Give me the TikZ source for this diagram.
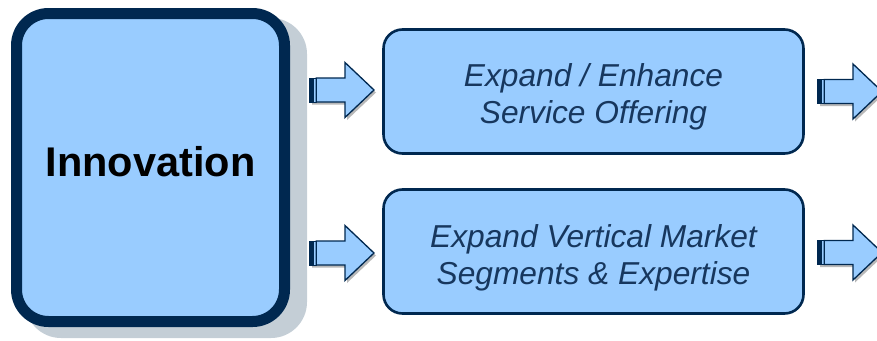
\documentclass[tikz,border=0pt]{standalone}
\usepackage{fontspec}
\setmainfont{Liberation Sans}
\usetikzlibrary{calc}
\definecolor{navy}{HTML}{002850}
\definecolor{lightblue}{HTML}{99CCFF}
\definecolor{shadowgray}{HTML}{C4CED6}
\definecolor{textnavy}{HTML}{17375E}
\tikzset{
  bigbox/.style={draw=navy, fill=lightblue, line width=11pt, rounded corners=32pt,
    minimum width=268pt, minimum height=308pt, inner sep=0pt},
  smallbox/.style={draw=navy, fill=lightblue, line width=2.6pt, rounded corners=19pt,
    minimum width=420pt, minimum height=124pt, inner sep=0pt},
  boxtext/.style={align=center, inner sep=0pt, text=textnavy,
    font=\fontsize{31.7}{37}\selectfont\itshape},
  pics/stripedarrow/.style={code={
    \fill[black, opacity=.28] (8.5,-9.5) -- (37.5,-9.5) -- (37.5,-25) -- (66.5,2.5) -- (37.5,30) -- (37.5,14.5) -- (2.5,14.5) -- (2.5,-9.5) -- cycle;
    \filldraw[fill=lightblue, draw=navy, line width=1pt] (0,-12) rectangle (7,12);
    \fill[navy] (0,-12) rectangle (4.6,12);
    \filldraw[fill=lightblue, draw=navy, line width=1.3pt, line join=miter]
      (6.8,-12) -- (35.5,-12) -- (35.5,-27.5) -- (64.5,0) -- (35.5,27.5) -- (35.5,12) -- (6.8,12) -- cycle;
  }}
}
\begin{document}
\begin{tikzpicture}[x=1pt,y=-1pt]
\useasboundingbox (0,0) rectangle (877,340);
\clip (0,0) rectangle (877,340);
% shadow of main box
\fill[shadowgray, rounded corners=36pt] (25,18) rectangle (307,338);
\node[bigbox] (inn) at (150.5,167.5) {};
\node[anchor=base, font=\fontsize{41.5}{41.5}\selectfont\bfseries, text=black] (innt) at (150.5,176.7) {Innovation};
\node[smallbox] (top) at (593.5,91.5) {};
\node[boxtext] (topt) at (593.5,96.5) {Expand / Enhance\\Service Offering};
\node[smallbox] (bot) at (593.5,251.5) {};
\node[boxtext] (bott) at (593.5,257.5) {Expand Vertical Market\\Segments \& Expertise};
% arrows
\pic at (309.5,90) {stripedarrow};
\pic at (309.5,253) {stripedarrow};
\pic at (817.5,91.5) {stripedarrow};
\pic at (817.5,252.5) {stripedarrow};
\end{tikzpicture}
\end{document}
